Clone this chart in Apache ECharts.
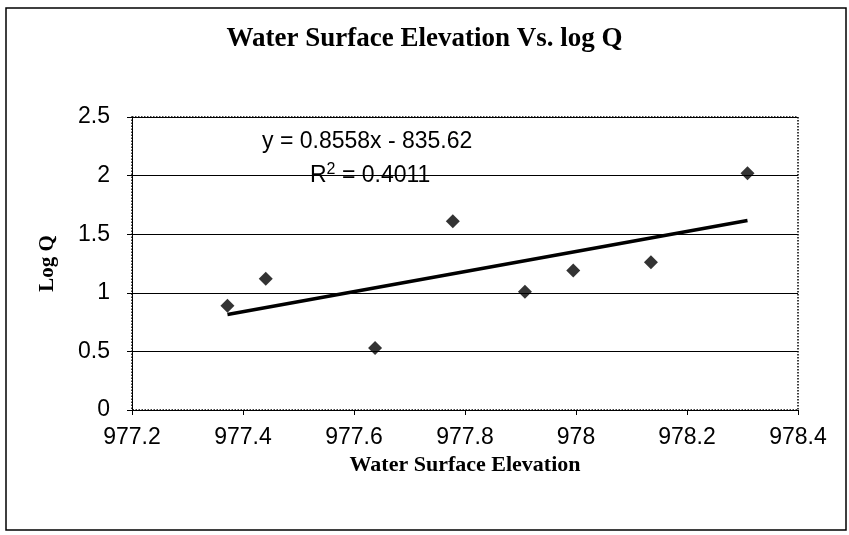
<!DOCTYPE html>
<html>
<head>
<meta charset="utf-8">
<script src="https://cdn.jsdelivr.net/npm/echarts@6/dist/echarts.min.js"></script>
<style>
  html, body { margin: 0; padding: 0; background: #fff; }
  #chart { width: 849px; height: 535px; }
</style>
</head>
<body>
<div id="chart"></div>
<script>
// elevation (x) vs log Q (y)
const elevation = [977.372, 977.441, 977.638, 977.778, 977.908, 977.995, 978.135, 978.309];
const logQ = [0.89, 1.12, 0.53, 1.61, 1.01, 1.19, 1.26, 2.02];

// linear trendline as printed on the chart
const slope = 0.8558;
const intercept = -835.62;
const rSquared = 0.4011;

const xTicks = { min: 977.2, max: 978.4, step: 0.2 };
const yTicks = { min: 0, max: 2.5, step: 0.5 };

const points = elevation.map((x, i) => [x, logQ[i]]);
const xLo = Math.min(...elevation);
const xHi = Math.max(...elevation);
const trend = [xLo, xHi].map((x) => [x, slope * x + intercept]);

const serif = "'Liberation Serif', 'DejaVu Serif', serif";
const sans = "'Liberation Sans', Arial, sans-serif";

const chart = echarts.init(document.getElementById("chart"));

chart.setOption({
  animation: false,
  backgroundColor: "#fff",
  title: {
    text: "Water Surface Elevation Vs. log Q",
    left: "center",
    top: 21,
    textStyle: { fontFamily: serif, fontWeight: "bold", fontSize: 27, color: "#000" },
  },
  grid: {
    left: 132,
    right: 51,
    top: 117,
    bottom: 125,
    show: true,
    borderColor: "#000",
    borderWidth: 1.5,
    borderType: "dotted",
  },
  xAxis: {
    type: "value",
    min: xTicks.min,
    max: xTicks.max,
    interval: xTicks.step,
    name: "Water Surface Elevation",
    nameLocation: "middle",
    nameGap: 43,
    nameTextStyle: { fontFamily: serif, fontWeight: "bold", fontSize: 22, color: "#000" },
    axisLine: { lineStyle: { color: "#000", width: 1 } },
    axisTick: { show: true, inside: false, length: 5, lineStyle: { color: "#000" } },
    axisLabel: { margin: 16, fontFamily: sans, fontSize: 23, color: "#000" },
    splitLine: { show: false },
  },
  yAxis: {
    type: "value",
    min: yTicks.min,
    max: yTicks.max,
    interval: yTicks.step,
    name: "Log Q",
    nameLocation: "middle",
    nameGap: 74,
    nameTextStyle: { fontFamily: serif, fontWeight: "bold", fontSize: 21, color: "#000" },
    axisLine: { show: true, lineStyle: { color: "#000", width: 1 } },
    axisTick: { show: true, inside: false, length: 5, lineStyle: { color: "#000" } },
    axisLabel: { margin: 22, fontFamily: sans, fontSize: 23, color: "#000" },
    splitLine: { show: true, lineStyle: { color: "#000", width: 1 } },
  },
  graphic: [
    {
      type: "rect",
      z: -10,
      silent: true,
      shape: { x: 6, y: 8, width: 840, height: 522 },
      style: { fill: null, stroke: "#000", lineWidth: 1.5 },
    },
    {
      type: "text",
      left: 262,
      top: 130,
      style: {
        text: "y = 0.8558x - 835.62",
        font: "23px " + sans,
        fill: "#000",
      },
    },
    {
      type: "text",
      left: 310,
      top: 162,
      style: {
        text: "{b|R}{s|2}{b| = " + rSquared.toFixed(4) + "}",
        fill: "#000",
        rich: {
          b: { fontFamily: sans, fontSize: 23, color: "#000", verticalAlign: "bottom" },
          s: { fontFamily: sans, fontSize: 16, color: "#000", verticalAlign: "top", padding: [0, 0, 9, 0] },
        },
      },
    },
  ],
  series: [
    {
      name: "Log Q",
      type: "scatter",
      data: points,
      symbol: "diamond",
      symbolSize: 14,
      itemStyle: { color: "#000" },
      z: 5,
    },
    {
      name: "Trend",
      type: "line",
      data: trend,
      showSymbol: false,
      lineStyle: { color: "#000", width: 3.5 },
      z: 4,
    },
  ],
});
</script>
</body>
</html>
